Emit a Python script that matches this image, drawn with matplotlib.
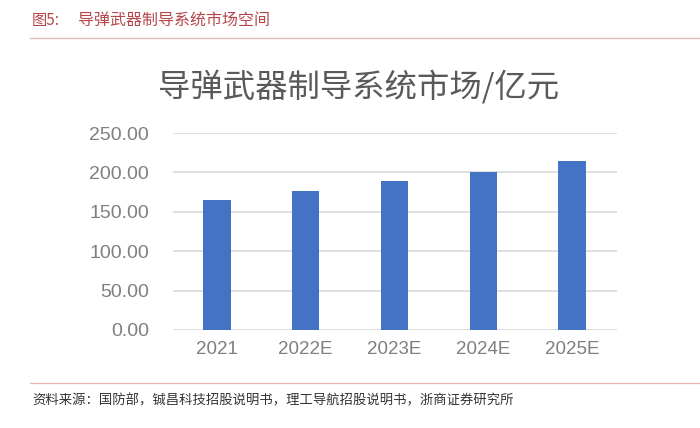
import matplotlib.pyplot as plt
from matplotlib.lines import Line2D

plt.rcParams['font.family'] = ['Noto Sans CJK SC', 'DejaVu Sans']

years = ['2021', '2022E', '2023E', '2024E', '2025E']
market = [165.0, 176.0, 188.5, 201.0, 215.0]
yticks = [0, 50, 100, 150, 200, 250]

W, H = 700, 428
fig = plt.figure(figsize=(W / 100, H / 100), dpi=100)

# axes box in pixel coordinates
x0, x1 = 172.5, 616.5
y_top, y_bot = 133, 330
ax = fig.add_axes([x0 / W, 1 - y_bot / H, (x1 - x0) / W, (y_bot - y_top) / H])

ax.bar(range(len(years)), market, width=0.31, color='#4472c4', zorder=3)
ax.set_xlim(-0.5, len(years) - 0.5)
ax.set_ylim(0, 250)
ax.set_yticks(yticks)
ax.set_yticklabels([f'{v:.2f}' for v in yticks])
ax.set_xticks(range(len(years)))
ax.set_xticklabels(years)
ax.grid(axis='y', color='#d9d9d9', linewidth=1.2, zorder=0)
for s in ax.spines.values():
    s.set_visible(False)
ax.tick_params(length=0, labelsize=13.5, labelcolor='#7f7f7f')
ax.tick_params(axis='x', pad=8)
ax.tick_params(axis='y', pad=17, labelsize=14)
for lab in ax.get_xticklabels() + ax.get_yticklabels():
    lab.set_family(['Liberation Sans', 'DejaVu Sans'])

fig.text(359 / W, 1 - 87 / H, '导弹武器制导系统市场/亿元', ha='center', va='center',
         fontsize=23.3, color='#595959')

# report header / footer
fig.text(32 / W, 1 - 20 / H, '图5:', ha='left', va='center',
         fontsize=11, color='#b5464a')
fig.text(78 / W, 1 - 20 / H, '导弹武器制导系统市场空间', ha='left', va='center',
         fontsize=11.5, color='#b5464a')
fig.add_artist(Line2D([30 / W, 1], [1 - 38 / H] * 2, color='#e8b4b4', linewidth=0.9))
fig.add_artist(Line2D([30 / W, 1], [1 - 383 / H] * 2, color='#e8b4b4', linewidth=0.9))
fig.text(32 / W, 1 - 400 / H,
         '资料来源：国防部，铖昌科技招股说明书，理工导航招股说明书，浙商证券研究所',
         ha='left', va='center', fontsize=9.6, color='#333333')

fig.savefig('out.png', dpi=100, facecolor='white')
